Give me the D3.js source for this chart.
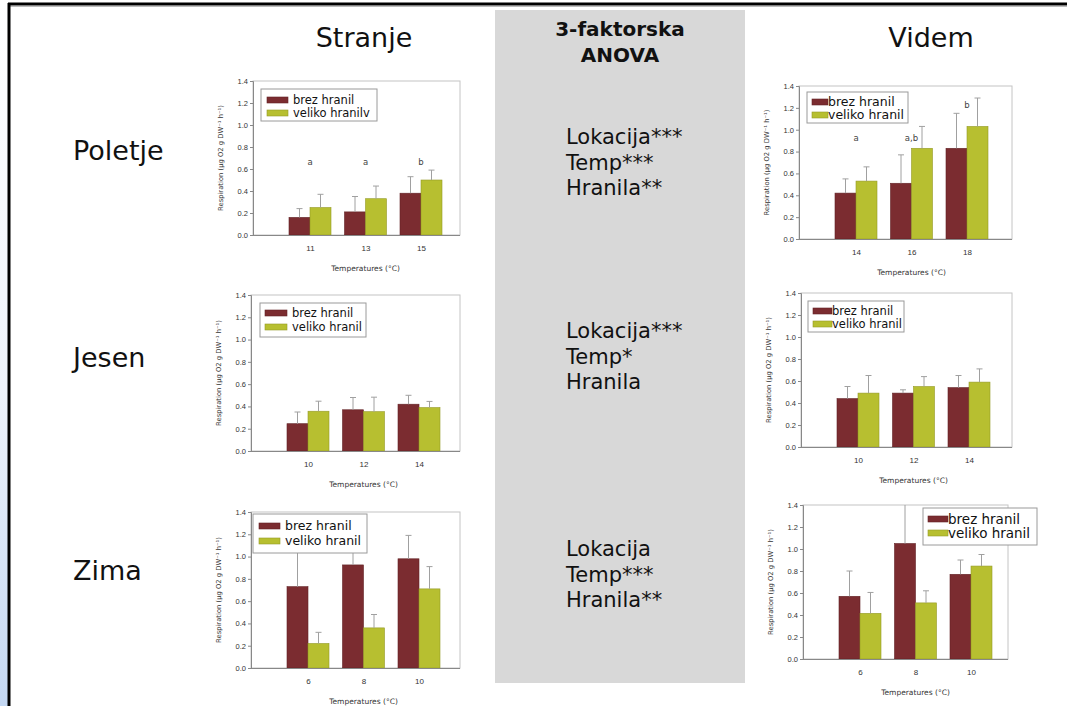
<!DOCTYPE html>
<html>
<head>
<meta charset="utf-8">
<script src="https://cdn.jsdelivr.net/npm/d3@7"></script>
<style>
  body { margin: 0; background: #fff; }
  svg { display: block; font-family: "Comic Sans MS", "DejaVu Sans", sans-serif; }
</style>
</head>
<body>
<svg id="slide" width="1067" height="706"></svg>
<script>
// ---- Labels ----
const sites = ["Stranje", "Videm"];
const seasons = ["Poletje", "Jesen", "Zima"];
const anovaTitle = ["3-faktorska", "ANOVA"];
const anovaPoletje = ["Lokacija***", "Temp***", "Hranila**"];
const anovaJesen = ["Lokacija***", "Temp*", "Hranila"];
const anovaZima = ["Lokacija", "Temp***", "Hranila**"];
const yTicks = [0, 0.2, 0.4, 0.6, 0.8, 1.0, 1.2, 1.4];
const yAxisTitle = "Respiration (\u03bcg O2 g DW\u207b\u00b9 h\u207b\u00b9)";
const xAxisTitle = "Temperatures (\u00b0C)";

// ---- Stranje, Poletje ----
const tempStranjePoletje = ["11", "13", "15"];
const brezStranjePoletje = [0.16, 0.21, 0.38];
const brezSdStranjePoletje = [0.08, 0.14, 0.15];
const velikoStranjePoletje = [0.25, 0.33, 0.50];
const velikoSdStranjePoletje = [0.12, 0.115, 0.09];
const lettersStranjePoletje = ["a", "a", "b"];
const letterLevelStranjePoletje = [0.64, 0.64, 0.64];
const legendStranjePoletje = ["brez hranil", "veliko hranilv"];

// ---- Videm, Poletje ----
const tempVidemPoletje = ["14", "16", "18"];
const brezVidemPoletje = [0.42, 0.51, 0.83];
const brezSdVidemPoletje = [0.13, 0.26, 0.32];
const velikoVidemPoletje = [0.53, 0.83, 1.03];
const velikoSdVidemPoletje = [0.13, 0.20, 0.26];
const lettersVidemPoletje = ["a", "a,b", "b"];
const letterLevelVidemPoletje = [0.9, 0.9, 1.2];
const legendVidemPoletje = ["brez hranil", "veliko hranil"];

// ---- Stranje, Jesen ----
const tempStranjeJesen = ["10", "12", "14"];
const brezStranjeJesen = [0.245, 0.37, 0.42];
const brezSdStranjeJesen = [0.105, 0.11, 0.08];
const velikoStranjeJesen = [0.357, 0.353, 0.39];
const velikoSdStranjeJesen = [0.09, 0.13, 0.055];
const legendStranjeJesen = ["brez hranil", "veliko hranil"];

// ---- Videm, Jesen ----
const tempVidemJesen = ["10", "12", "14"];
const brezVidemJesen = [0.44, 0.49, 0.54];
const brezSdVidemJesen = [0.11, 0.03, 0.11];
const velikoVidemJesen = [0.49, 0.55, 0.59];
const velikoSdVidemJesen = [0.16, 0.09, 0.12];
const legendVidemJesen = ["brez hranil", "veliko hranil"];

// ---- Stranje, Zima ----
const tempStranjeZima = ["6", "8", "10"];
const brezStranjeZima = [0.73, 0.925, 0.98];
const brezSdStranjeZima = [0.40, 0.20, 0.21];
const velikoStranjeZima = [0.22, 0.36, 0.71];
const velikoSdStranjeZima = [0.10, 0.12, 0.20];
const legendStranjeZima = ["brez hranil", "veliko hranil"];

// ---- Videm, Zima ----
const tempVidemZima = ["6", "8", "10"];
const brezVidemZima = [0.57, 1.05, 0.77];
const brezSdVidemZima = [0.23, 0.45, 0.13];
const velikoVidemZima = [0.415, 0.51, 0.845];
const velikoSdVidemZima = [0.19, 0.11, 0.105];
const legendVidemZima = ["brez hranil", "veliko hranil"];

const colors = { brez: "#7b2c30", veliko: "#b7bf30" };

const panels = [
  { temps: tempStranjePoletje, brez: brezStranjePoletje, brezSd: brezSdStranjePoletje,
    veliko: velikoStranjePoletje, velikoSd: velikoSdStranjePoletje,
    letters: lettersStranjePoletje, letterLevel: letterLevelStranjePoletje, legend: legendStranjePoletje,
    frame: { x0: 253, top: 81, bottom: 235, right: 460 },
    leg: { x: 261, y: 89, w: 116, h: 32, sx: 267, sw: 21, tx: 293, fs: 11.5, r1: 100, r2: 113 } },
  { temps: tempVidemPoletje, brez: brezVidemPoletje, brezSd: brezSdVidemPoletje,
    veliko: velikoVidemPoletje, velikoSd: velikoSdVidemPoletje,
    letters: lettersVidemPoletje, letterLevel: letterLevelVidemPoletje, legend: legendVidemPoletje,
    frame: { x0: 799, top: 86, bottom: 239, right: 1012 },
    leg: { x: 807, y: 92, w: 101, h: 31, sx: 812, sw: 16, tx: 828, fs: 12.5, r1: 102, r2: 115 } },
  { temps: tempStranjeJesen, brez: brezStranjeJesen, brezSd: brezSdStranjeJesen,
    veliko: velikoStranjeJesen, velikoSd: velikoSdStranjeJesen, legend: legendStranjeJesen,
    frame: { x0: 251, top: 295, bottom: 451, right: 460 },
    leg: { x: 260, y: 303, w: 106, h: 34, sx: 265, sw: 22, tx: 292, fs: 11.5, r1: 313, r2: 327 } },
  { temps: tempVidemJesen, brez: brezVidemJesen, brezSd: brezSdVidemJesen,
    veliko: velikoVidemJesen, velikoSd: velikoSdVidemJesen, legend: legendVidemJesen,
    frame: { x0: 801, top: 293, bottom: 447, right: 1012 },
    leg: { x: 808, y: 301, w: 96, h: 31, sx: 813, sw: 19, tx: 832, fs: 11.5, r1: 311, r2: 324 } },
  { temps: tempStranjeZima, brez: brezStranjeZima, brezSd: brezSdStranjeZima,
    veliko: velikoStranjeZima, velikoSd: velikoSdStranjeZima, legend: legendStranjeZima,
    frame: { x0: 251, top: 512, bottom: 668, right: 460 },
    leg: { x: 253, y: 514, w: 114, h: 39, sx: 259, sw: 21, tx: 285, fs: 12.5, r1: 526, r2: 541 } },
  { temps: tempVidemZima, brez: brezVidemZima, brezSd: brezSdVidemZima,
    veliko: velikoVidemZima, velikoSd: velikoSdVidemZima, legend: legendVidemZima,
    frame: { x0: 803, top: 505, bottom: 659, right: 1008 },
    leg: { x: 923, y: 508, w: 114, h: 37, sx: 928, sw: 20, tx: 948, fs: 13.5, r1: 519, r2: 533 } }
];

const svg = d3.select("#slide");

// ---- Slide decoration ----
const defs = svg.append("defs");
const grad = defs.append("linearGradient").attr("id", "sideGrad")
  .attr("x1", 0).attr("y1", 0).attr("x2", 0).attr("y2", 1);
grad.append("stop").attr("offset", "0%").attr("stop-color", "#ffffff");
grad.append("stop").attr("offset", "55%").attr("stop-color", "#eef3fb");
grad.append("stop").attr("offset", "100%").attr("stop-color", "#c3d7f2");
svg.append("rect").attr("x", 0).attr("y", 0).attr("width", 8).attr("height", 706).attr("fill", "url(#sideGrad)");
svg.append("line").attr("x1", 8).attr("x2", 1067).attr("y1", 4).attr("y2", 4)
  .attr("stroke", "#000").attr("stroke-width", 3);
svg.append("line").attr("x1", 8).attr("x2", 1067).attr("y1", 6.5).attr("y2", 6.5)
  .attr("stroke", "#bbb").attr("stroke-width", 1);
svg.append("line").attr("x1", 9).attr("x2", 9).attr("y1", 3).attr("y2", 706)
  .attr("stroke", "#000").attr("stroke-width", 3);

// ---- Central ANOVA box ----
svg.append("rect").attr("x", 495).attr("y", 10).attr("width", 250).attr("height", 673).attr("fill", "#d8d8d8");
svg.selectAll("text.anovaTitle").data(anovaTitle).join("text")
  .attr("class", "anovaTitle")
  .attr("x", 620).attr("y", (d, i) => 36 + i * 26)
  .attr("text-anchor", "middle").attr("font-weight", "bold").attr("font-size", 20).attr("fill", "#111")
  .text(d => d);
[[anovaPoletje, 144], [anovaJesen, 338], [anovaZima, 556]].forEach(([lines, y0]) => {
  svg.append("g").selectAll("text").data(lines).join("text")
    .attr("x", 566).attr("y", (d, i) => y0 + i * 25.5)
    .attr("font-size", 21).attr("fill", "#111")
    .text(d => d);
});

// ---- Column and row headings ----
svg.selectAll("text.site").data(sites).join("text").attr("class", "site")
  .attr("x", (d, i) => [364, 931][i]).attr("y", 47)
  .attr("text-anchor", "middle").attr("font-size", 27).attr("fill", "#111").text(d => d);
svg.selectAll("text.season").data(seasons).join("text").attr("class", "season")
  .attr("x", 73).attr("y", (d, i) => [160, 367, 580][i])
  .attr("font-size", 27).attr("fill", "#111").text(d => d);

// ---- Bar panels ----
function drawPanel(p) {
  const f = p.frame;
  const g = svg.append("g");
  const y = d3.scaleLinear().domain([0, 1.4]).range([f.bottom, f.top]);
  const x = d3.scalePoint().domain(p.temps).range([f.x0 + 57, f.x0 + 168]);
  const bw = 21;

  // plot frame
  g.append("rect").attr("x", f.x0).attr("y", f.top).attr("width", f.right - f.x0).attr("height", f.bottom - f.top)
    .attr("fill", "none").attr("stroke", "#c4c4c4").attr("stroke-width", 1);

  const series = [
    { key: "brez", vals: p.brez, sd: p.brezSd, off: -bw },
    { key: "veliko", vals: p.veliko, sd: p.velikoSd, off: 0 }
  ];

  series.forEach(s => {
    const rows = s.vals.map((v, i) => ({ t: p.temps[i], v, sd: s.sd[i] }));
    // bars
    g.append("g").selectAll("rect").data(rows).join("rect")
      .attr("x", d => x(d.t) + s.off).attr("width", bw)
      .attr("y", d => y(d.v)).attr("height", d => y(0) - y(d.v))
      .attr("fill", colors[s.key]).attr("stroke", d3.color(colors[s.key]).darker(0.6)).attr("stroke-width", 0.6);
    // upper error bars
    const eg = g.append("g").attr("stroke", "#a0a0a0").attr("stroke-width", 1);
    eg.selectAll("line.stem").data(rows).join("line").attr("class", "stem")
      .attr("x1", d => x(d.t) + s.off + bw / 2).attr("x2", d => x(d.t) + s.off + bw / 2)
      .attr("y1", d => y(d.v)).attr("y2", d => y(Math.min(1.4, d.v + d.sd)));
    eg.selectAll("line.cap").data(rows.filter(d => d.v + d.sd <= 1.4)).join("line").attr("class", "cap")
      .attr("x1", d => x(d.t) + s.off + bw / 2 - 3).attr("x2", d => x(d.t) + s.off + bw / 2 + 3)
      .attr("y1", d => y(d.v + d.sd)).attr("y2", d => y(d.v + d.sd));
  });

  // axes
  const yAxis = g.append("g").attr("transform", `translate(${f.x0},0)`)
    .call(d3.axisLeft(y).tickValues(yTicks).tickFormat(d3.format(".1f")).tickSize(3).tickPadding(2));
  yAxis.select(".domain").attr("stroke", "#888");
  yAxis.selectAll(".tick line").attr("stroke", "#888");
  yAxis.selectAll("text").attr("font-size", 7.5).attr("fill", "#333").attr("font-family", null);

  const xAxis = g.append("g").attr("transform", `translate(0,${f.bottom})`)
    .call(d3.axisBottom(x).tickSize(0).tickPadding(10));
  xAxis.select(".domain").attr("d", `M${f.x0},0.5H${f.right}`).attr("stroke", "#888");
  xAxis.selectAll("text").attr("font-size", 8).attr("fill", "#333").attr("font-family", null);

  // axis titles
  g.append("text").attr("transform", `translate(${f.x0 - 30},${(f.top + f.bottom) / 2}) rotate(-90)`)
    .attr("text-anchor", "middle").attr("font-size", 6.8).attr("fill", "#333").text(yAxisTitle);
  g.append("text").attr("x", x(p.temps[1])).attr("y", f.bottom + 36)
    .attr("text-anchor", "middle").attr("font-size", 7.5).attr("fill", "#333").text(xAxisTitle);

  // significance letters
  if (p.letters) {
    g.append("g").selectAll("text").data(p.letters).join("text")
      .attr("x", (d, i) => x(p.temps[i])).attr("y", (d, i) => y(p.letterLevel[i]))
      .attr("text-anchor", "middle").attr("font-size", 8.5).attr("fill", "#444").text(d => d);
  }

  // legend
  const L = p.leg;
  const lg = g.append("g");
  lg.append("rect").attr("x", L.x).attr("y", L.y).attr("width", L.w).attr("height", L.h)
    .attr("fill", "#fff").attr("stroke", "#9a9a9a").attr("stroke-width", 1);
  [["brez", L.r1], ["veliko", L.r2]].forEach(([k, ry], i) => {
    lg.append("rect").attr("x", L.sx).attr("y", ry - 3).attr("width", L.sw).attr("height", 6)
      .attr("fill", colors[k]).attr("stroke", d3.color(colors[k]).darker(0.6)).attr("stroke-width", 0.6);
    lg.append("text").attr("x", L.tx).attr("y", ry).attr("dy", "0.35em")
      .attr("font-size", L.fs).attr("fill", "#111").text(p.legend[i]);
  });
}

panels.forEach(drawPanel);
</script>
</body>
</html>
